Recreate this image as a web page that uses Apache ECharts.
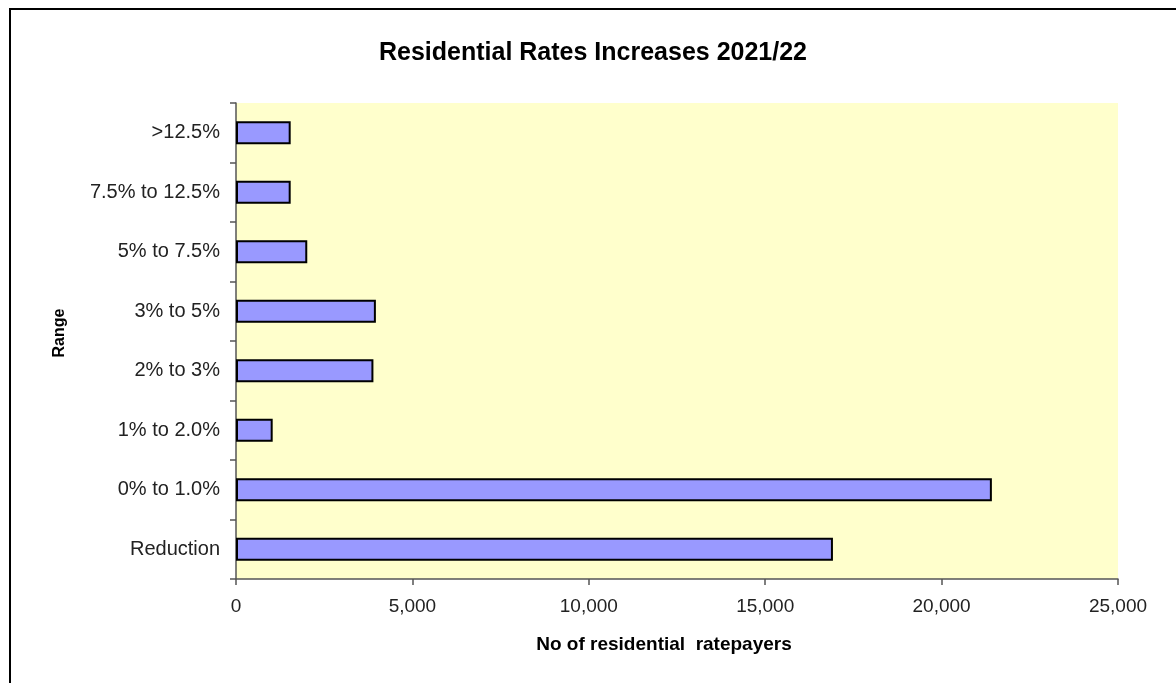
<!DOCTYPE html>
<html><head><meta charset="utf-8">
<script src="https://cdn.jsdelivr.net/npm/echarts@6/dist/echarts.min.js"></script>
<style>html,body{margin:0;padding:0;background:#fff}#c{width:1176px;height:683px}</style>
</head><body><div id="c"></div>
<script>
const categories = ['Reduction','0% to 1.0%','1% to 2.0%','2% to 3%','3% to 5%','5% to 7.5%','7.5% to 12.5%','>12.5%'];
const ratepayers = [16920, 21425, 1040, 3895, 3965, 2020, 1550, 1550];
const xTicks = [0, 5000, 10000, 15000, 20000, 25000];

const FONT = 'Liberation Sans, Arial, sans-serif';
const chart = echarts.init(document.getElementById('c'), null, {renderer:'canvas'});
chart.setOption({
  animation:false,
  backgroundColor:'#fff',
  textStyle:{fontFamily:FONT},
  title:{text:'Residential Rates Increases 2021/22', left:588, top:36, textAlign:'center',
    textStyle:{fontSize:25, fontWeight:'bold', color:'#000', fontFamily:FONT}},
  graphic:[
    {type:'rect', shape:{x:10, y:9, width:1200, height:700}, style:{fill:'none', stroke:'#000', lineWidth:2}, silent:true},
    {type:'text', x:60, y:333, rotation:Math.PI/2, style:{text:'Range', font:'bold 16px ' + FONT, fill:'#000', align:'center', verticalAlign:'middle'}, silent:true}
  ],
  grid:{left:236, right:58, top:103, bottom:104, show:true, backgroundColor:'#ffffcc', borderWidth:0},
  xAxis:{type:'value', min:xTicks[0], max:xTicks[xTicks.length-1], interval:5000,
    name:'No of residential  ratepayers', nameLocation:'middle', nameGap:56,
    nameTextStyle:{fontSize:19, fontWeight:'bold', color:'#000', padding:[0,26,0,0]},
    axisLine:{show:true, lineStyle:{color:'#555', width:1.5}},
    axisTick:{show:true, length:6, lineStyle:{color:'#555', width:1.5}},
    splitLine:{show:false},
    axisLabel:{fontSize:19, color:'#222', margin:18,
      formatter:v=>v.toLocaleString('en-US')}},
  yAxis:{type:'category', data:categories,
    axisLine:{show:true, lineStyle:{color:'#555', width:1.5}},
    axisTick:{show:true, length:6, lineStyle:{color:'#555', width:1.5}},
    axisLabel:{fontSize:20, color:'#222', margin:16}},
  series:[{type:'bar', data:ratepayers, barCategoryGap:'61%',
    itemStyle:{color:'#9999ff', borderColor:'#000', borderWidth:2}}]
});
</script></body></html>
